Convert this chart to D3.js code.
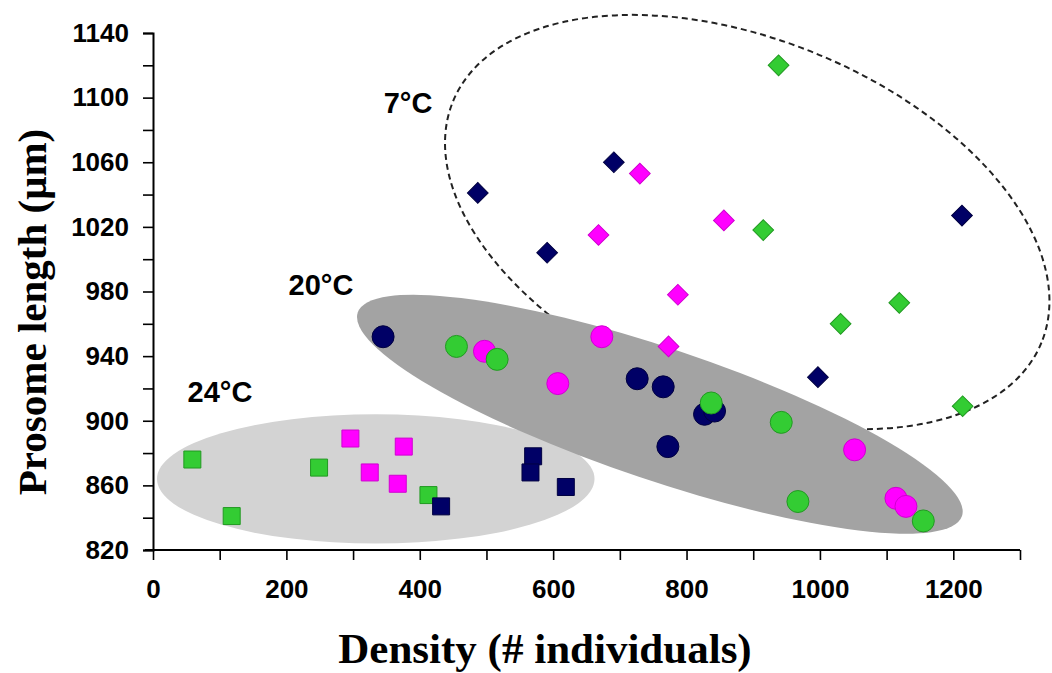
<!DOCTYPE html>
<html>
<head>
<meta charset="utf-8">
<script src="https://cdn.jsdelivr.net/npm/d3@7"></script>
<style>
    body { margin: 0; background: #fff; }
    svg { display: block; }
</style>
</head>
<body>
<div id="chart"></div>
<script>
// Data: [density, prosome length]
// 24°C (squares)
const sq_navy = [[432, 847], [570, 878], [566, 868], [619, 859]];
const sq_magenta = [[296, 889], [376, 884], [325, 868], [367, 861]];
const sq_green = [[59, 876], [249, 871], [118, 841], [413, 854]];

// 20°C (circles)
const ci_navy = [[345, 952], [726, 926], [765, 921], [827, 904], [842, 906], [772, 884]];
const ci_magenta = [[497, 943], [673, 952], [607, 923], [1052, 882], [1114, 852], [1129, 847]];
const ci_green = [[455, 946], [516, 938], [837, 911], [942, 899], [967, 850], [1155, 838]];

// 7°C (diamonds)
const di_navy = [[691, 1060], [487, 1041], [591, 1004], [1213, 1027], [997, 927]];
const di_magenta = [[730, 1053], [668, 1015], [856, 1024], [787, 978], [773, 946]];
const di_green = [[938, 1120], [915, 1018], [1031, 960], [1119, 973], [1214, 909]];

const xTicks = [0, 200, 400, 600, 800, 1000, 1200];
const yTicks = [820, 860, 900, 940, 980, 1020, 1060, 1100, 1140];

const colors = {
    navy: { fill: '#000066', stroke: '#000040' },
    magenta: { fill: '#ff00ff', stroke: '#d000d0' },
    green: { fill: '#33cc33', stroke: '#229922' }
};

const width = 1052, height = 673;

const svg = d3.select('#chart')
    .append('svg')
    .attr('width', width)
    .attr('height', height);

const x = d3.scaleLinear().domain([0, 1300]).range([153, 1020]);
const y = d3.scaleLinear().domain([820, 1140]).range([550, 33]);

// --- group outlines ---
// 7°C dashed ellipse (center in data units, radii/angle in px)
const e7 = { cx: 891, cy: 1023 };
svg.append('ellipse')
    .attr('cx', 0).attr('cy', 0)
    .attr('rx', 318).attr('ry', 182)
    .attr('transform', `translate(${x(e7.cx)},${y(e7.cy)}) rotate(22.3)`)
    .attr('fill', 'none')
    .attr('stroke', '#222')
    .attr('stroke-width', 2)
    .attr('stroke-dasharray', '6,4');

// 24°C light ellipse
const e24 = { cx: 334, cy: 864, rx: 328, ry: 40 };
svg.append('ellipse')
    .attr('cx', x(e24.cx))
    .attr('cy', y(e24.cy))
    .attr('rx', x(e24.rx) - x(0))
    .attr('ry', y(820) - y(820 + e24.ry))
    .attr('fill', '#d3d3d3');

// 20°C dark ellipse, defined by its two tips
const e20 = { x1: 307, y1: 967, x2: 1213, y2: 841 };
const tx1 = x(e20.x1), ty1 = y(e20.y1), tx2 = x(e20.x2), ty2 = y(e20.y2);
const a20 = Math.hypot(tx2 - tx1, ty2 - ty1) / 2;
const ang20 = Math.atan2(ty2 - ty1, tx2 - tx1) * 180 / Math.PI;
svg.append('ellipse')
    .attr('cx', 0).attr('cy', 0)
    .attr('rx', a20).attr('ry', 66)
    .attr('transform', `translate(${(tx1 + tx2) / 2},${(ty1 + ty2) / 2}) rotate(${ang20})`)
    .attr('fill', '#a3a3a3');

// --- axes ---
const yAxis = d3.axisLeft(y).tickValues(d3.range(820, 1141, 20))
    .tickSize(10).tickFormat(d => yTicks.includes(d) ? d : '').tickPadding(14);
const gy = svg.append('g').attr('transform', 'translate(153,0)').call(yAxis);

const xAxis = d3.axisBottom(x).tickValues(d3.range(0, 1301, 100))
    .tickSize(10).tickFormat(d => xTicks.includes(d) ? d : '').tickPadding(20);
const gx = svg.append('g').attr('transform', 'translate(0,550)').call(xAxis);

[gx, gy].forEach(g => {
    g.select('.domain').attr('stroke', '#000').attr('stroke-width', 2);
    g.selectAll('.tick line').attr('stroke', '#000').attr('stroke-width', 1.6);
    g.selectAll('text')
        .attr('font-family', 'Arial, "Liberation Sans", sans-serif')
        .attr('font-weight', 'bold')
        .attr('font-size', 26)
        .attr('fill', '#000');
});
gx.select('.domain').attr('d', 'M145,0H1020');

// axis titles
svg.append('text')
    .attr('transform', 'translate(46,312) rotate(-90)')
    .attr('text-anchor', 'middle')
    .attr('font-family', '"Times New Roman", "Liberation Serif", serif')
    .attr('font-weight', 'bold')
    .attr('font-size', 41)
    .text('Prosome length (μm)');

svg.append('text')
    .attr('x', 545).attr('y', 663)
    .attr('text-anchor', 'middle')
    .attr('font-family', '"Times New Roman", "Liberation Serif", serif')
    .attr('font-weight', 'bold')
    .attr('font-size', 43)
    .text('Density (# individuals)');

// --- points ---
function drawPoints(data, shape, color) {
    const sym = shape === 'circle' ? d3.symbolCircle : d3.symbolSquare;
    const size = shape === 'circle' ? Math.PI * 11 * 11 : (shape === 'square' ? 289 : 215);
    const rot = shape === 'diamond' ? 45 : 0;
    svg.append('g').selectAll('path')
        .data(data)
        .enter()
        .append('path')
        .attr('d', d3.symbol(sym, size))
        .attr('transform', d => `translate(${x(d[0])},${y(d[1])}) rotate(${rot})`)
        .attr('fill', colors[color].fill)
        .attr('stroke', colors[color].stroke)
        .attr('stroke-width', 1);
}

drawPoints(sq_green, 'square', 'green');
drawPoints(sq_magenta, 'square', 'magenta');
drawPoints(sq_navy, 'square', 'navy');

drawPoints(ci_navy, 'circle', 'navy');
drawPoints(ci_magenta, 'circle', 'magenta');
drawPoints(ci_green, 'circle', 'green');

drawPoints(di_navy, 'diamond', 'navy');
drawPoints(di_magenta, 'diamond', 'magenta');
drawPoints(di_green, 'diamond', 'green');

// group labels
const groupLabels = [
    { text: '7°C', px: 408, py: 113 },
    { text: '20°C', px: 321, py: 295 },
    { text: '24°C', px: 220, py: 402 }
];
svg.selectAll('.glabel')
    .data(groupLabels)
    .enter()
    .append('text')
    .attr('x', d => d.px)
    .attr('y', d => d.py)
    .attr('text-anchor', 'middle')
    .attr('font-family', 'Arial, "Liberation Sans", sans-serif')
    .attr('font-weight', 'bold')
    .attr('font-size', 29)
    .text(d => d.text);
</script>
</body>
</html>
